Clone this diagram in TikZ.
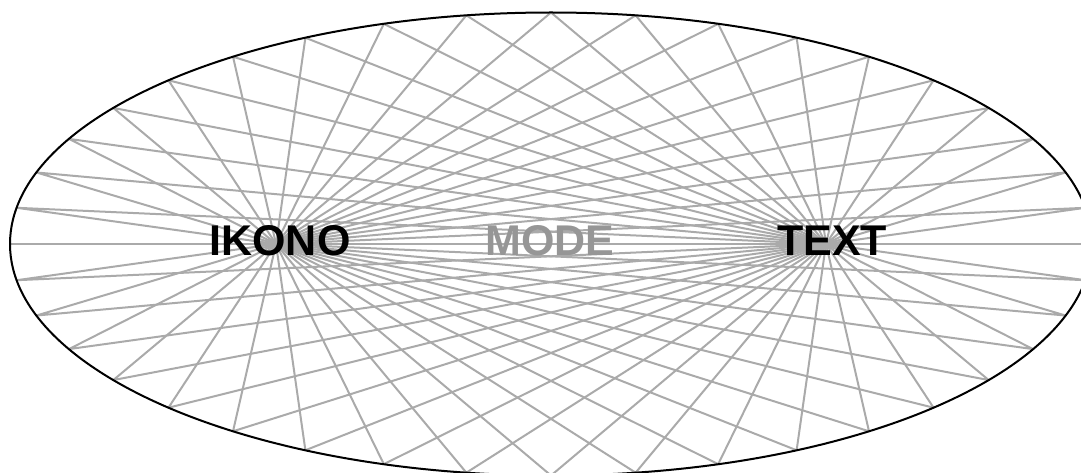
\documentclass[tikz,border=0pt]{standalone}
\usepackage{fontspec}
\setmainfont{Liberation Sans}
\definecolor{RayGray}{RGB}{170,170,170}
\definecolor{ModeGray}{RGB}{150,150,150}
\usetikzlibrary{calc}

\begin{document}
\begin{tikzpicture}[x=1pt,y=1pt,
  ray/.style={RayGray,line width=2pt,line join=round},
  word/.style={font=\fontsize{43}{43}\selectfont\bfseries,anchor=base,inner sep=0pt}]
\clip (0,0) rectangle (1081,472);
\coordinate (C) at (551,228);
\coordinate (F1) at (276,228);
\coordinate (F2) at (826,228);
% Rays from both foci to the rim
\foreach \t in {0,9,...,351}{
  \coordinate (rim) at ($(C)+(\t:541 and 231.5)$);
  \draw[ray] (F1) -- (rim) -- (F2);
}
% Rim
\draw[line width=2pt] (C) ellipse[x radius=541,y radius=231.5];
% Labels
\node[word] (ikono) at (280,217) {IKONO};
\node[word,ModeGray] (mode) at (550,217) {MODE};
\node[word] (text) at (832,217) {TEXT};
\end{tikzpicture}
\end{document}
